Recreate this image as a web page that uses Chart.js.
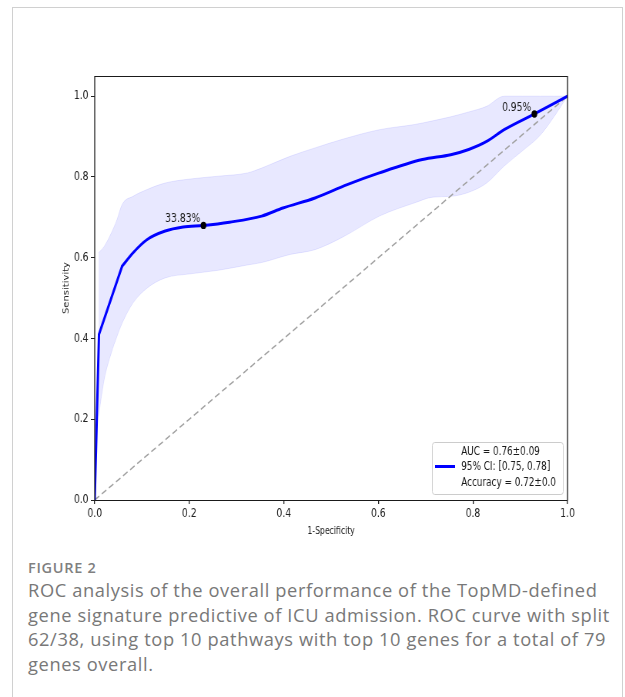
<!DOCTYPE html>
<html><head><meta charset="utf-8">
<script src="https://cdn.jsdelivr.net/npm/chart.js@4.4.0/dist/chart.umd.min.js"></script>
<style>
html,body{margin:0;padding:0;background:#fff;}
body{width:625px;height:697px;position:relative;overflow:hidden;}
#card{position:absolute;left:12px;top:7px;width:611px;height:760px;border:1px solid #d0d0d0;box-sizing:border-box;}
#wrap{position:absolute;left:0;top:0;width:812px;height:545px;transform:scaleX(0.77);transform-origin:0 0;}
#c{display:block;width:812px;height:545px;}
#cap{position:absolute;left:28px;top:558px;font-family:'Open Sans','Lato',sans-serif;color:#787878;white-space:nowrap;}
#cap .fig{font-size:14.5px;line-height:20px;font-weight:600;color:#808080;letter-spacing:0.7px;}
#cap .txt{font-size:18.3px;line-height:24.5px;font-weight:400;letter-spacing:0.6px;}
</style></head>
<body>
<div id="card"></div>
<div id="wrap"><canvas id="c" width="812" height="545"></canvas></div>
<div id="cap"><div class="fig">FIGURE 2</div><div class="txt">ROC analysis of the overall performance of the TopMD-defined<br>gene signature predictive of ICU admission. ROC curve with split<br>62/38, using top 10 pathways with top 10 genes for a total of 79<br>genes overall.</div></div>
<script>
// ---- data ----
// steep start of the mean ROC curve (straight segments)
const fprMeanStart = [0, 0.009, 0.058];
const tprMeanStart = [0, 0.410, 0.579];
// rest of the mean ROC curve (smooth)
const fprMean = [0.058, 0.081, 0.111, 0.149, 0.187, 0.230, 0.285, 0.353, 0.398, 0.466, 0.534, 0.602, 0.693, 0.753, 0.791, 0.829, 0.866, 0.930, 1.0];
const tprMean = [0.579, 0.612, 0.645, 0.666, 0.676, 0.680, 0.688, 0.703, 0.723, 0.748, 0.781, 0.810, 0.843, 0.855, 0.868, 0.888, 0.917, 0.956, 1.0];

const fprBand  = [0.008, 0.020, 0.035, 0.047, 0.058, 0.081, 0.111, 0.149, 0.202, 0.262, 0.323, 0.353, 0.413, 0.466, 0.526, 0.602, 0.677, 0.715, 0.753, 0.791, 0.829, 0.866, 0.904, 0.942, 0.972, 1.0];
const tprUpper = [0.612, 0.628, 0.661, 0.694, 0.732, 0.752, 0.769, 0.785, 0.795, 0.802, 0.810, 0.822, 0.851, 0.872, 0.894, 0.917, 0.930, 0.939, 0.949, 0.961, 0.975, 1.0, 1.0, 1.0, 1.0, 1.0];
const tprLower = [0.207, 0.298, 0.364, 0.405, 0.438, 0.488, 0.525, 0.550, 0.560, 0.569, 0.582, 0.588, 0.608, 0.620, 0.652, 0.703, 0.736, 0.750, 0.752, 0.762, 0.785, 0.827, 0.864, 0.903, 0.950, 1.0];

const markerFpr = [0.23, 0.93];
const markerTpr = [0.68, 0.956];
const markerLabels = ['33.83%', '0.95%'];

const chanceFpr = [0, 1];
const chanceTpr = [0, 1];

const xTicks = [0.0, 0.2, 0.4, 0.6, 0.8, 1.0];
const yTicks = [0.0, 0.2, 0.4, 0.6, 0.8, 1.0];
const legendLines = ['AUC = 0.76\u00B10.09', '95% CI: [0.75, 0.78]', 'Accuracy = 0.72\u00B10.0'];
const xTitle = '1-Specificity';
const yTitle = 'Sensitivity';

const pts = (xs, ys) => xs.map((x, i) => ({x: x, y: ys[i]}));

Chart.defaults.font.family = "'DejaVu Sans', sans-serif";
Chart.defaults.color = '#222';

const framePlugin = {
  id: 'frame',
  afterDatasetsDraw(chart) {
    const {ctx, chartArea: a} = chart;
    ctx.save();
    ctx.strokeStyle = '#1a1a1a';
    ctx.lineWidth = 1;
    ctx.beginPath();
    ctx.moveTo(a.left, Math.round(a.top) + 0.5); ctx.lineTo(a.right, Math.round(a.top) + 0.5);
    ctx.moveTo(a.left, Math.round(a.bottom) + 0.5); ctx.lineTo(a.right, Math.round(a.bottom) + 0.5);
    ctx.stroke();
    ctx.lineWidth = 1.3;
    ctx.beginPath();
    ctx.moveTo(a.left, a.top); ctx.lineTo(a.left, a.bottom + 0.5);
    ctx.moveTo(a.right, a.top); ctx.lineTo(a.right, a.bottom + 0.5);
    ctx.stroke();
    ctx.restore();
  }
};

const annotPlugin = {
  id: 'annot',
  afterDatasetsDraw(chart) {
    const {ctx} = chart;
    const meta = chart.getDatasetMeta(0);
    ctx.save();
    ctx.font = "12px 'DejaVu Sans'";
    ctx.fillStyle = '#1a1a1a';
    ctx.textAlign = 'right';
    ctx.textBaseline = 'alphabetic';
    meta.data.forEach((el, i) => {
      ctx.fillText(markerLabels[i], el.x - 4, el.y - 3);
    });
    ctx.restore();
  }
};

const legendPlugin = {
  id: 'boxLegend',
  afterDraw(chart) {
    const {ctx, chartArea: a} = chart;
    const bw = 170, bh = 52;
    const bx = a.right - 6 - bw, by = a.bottom - 6 - bh;
    ctx.save();
    ctx.beginPath();
    ctx.roundRect(bx + 0.5, by + 0.5, bw, bh, 3);
    ctx.fillStyle = 'rgba(255,255,255,0.85)';
    ctx.fill();
    ctx.strokeStyle = '#cccccc';
    ctx.lineWidth = 1;
    ctx.stroke();
    ctx.beginPath();
    ctx.moveTo(bx + 4, by + 24.5); ctx.lineTo(bx + 30, by + 24.5);
    ctx.strokeStyle = '#0000ff';
    ctx.lineWidth = 3;
    ctx.stroke();
    ctx.font = "11.5px 'DejaVu Sans'";
    ctx.fillStyle = '#1a1a1a';
    ctx.textAlign = 'left';
    ctx.textBaseline = 'middle';
    const ys = [10.5, 25, 40.6];
    legendLines.forEach((t, i) => ctx.fillText(t, bx + 38, by + ys[i]));
    ctx.restore();
  }
};

new Chart(document.getElementById('c'), {
  type: 'line',
  data: {
    datasets: [
      { label: 'markers', data: pts(markerFpr, markerTpr), showLine: false,
        pointRadius: 3.7, pointBackgroundColor: '#000', pointBorderColor: '#000', pointBorderWidth: 0, order: 0 },
      { label: 'mean ROC start', data: pts(fprMeanStart, tprMeanStart), borderColor: '#0000ff', borderWidth: 3,
        pointRadius: 0, tension: 0, fill: false, order: 1, borderJoinStyle: 'round' },
      { label: 'mean ROC', data: pts(fprMean, tprMean), borderColor: '#0000ff', borderWidth: 3,
        pointRadius: 0, cubicInterpolationMode: 'monotone', fill: false, order: 1, borderCapStyle: 'round' },
      { label: 'chance', data: pts(chanceFpr, chanceTpr), borderColor: '#a0a0a0', borderWidth: 1.5,
        borderDash: [7, 4], pointRadius: 0, fill: false, order: 2 },
      { label: 'upper', data: pts(fprBand, tprUpper), borderColor: 'rgba(0,0,255,0.09)', borderWidth: 1,
        backgroundColor: 'rgba(0,0,255,0.09)', pointRadius: 0, cubicInterpolationMode: 'monotone', fill: '+1', order: 3 },
      { label: 'lower', data: pts(fprBand, tprLower), borderColor: 'rgba(0,0,255,0.09)', borderWidth: 1,
        pointRadius: 0, cubicInterpolationMode: 'monotone', fill: false, order: 4 }
    ]
  },
  options: {
    responsive: false,
    animation: false,
    devicePixelRatio: 1,
    layout: { padding: { left: 0, top: 76, right: 75, bottom: 0 } },
    plugins: { legend: { display: false }, tooltip: { enabled: false } },
    scales: {
      x: {
        type: 'linear', min: 0, max: 1,
        afterBuildTicks: s => { s.ticks = xTicks.map(v => ({value: v})); },
        afterFit: s => { s.height = 45; },
        ticks: { callback: v => v.toFixed(1), font: { size: 12 }, padding: 3, maxRotation: 0, color: '#222' },
        grid: { drawOnChartArea: false, drawTicks: true, tickLength: 4, color: '#222', lineWidth: 1.3 },
        border: { display: false },
        title: { display: true, text: xTitle, font: { size: 10 }, color: '#222', padding: { top: 0, bottom: 8 } }
      },
      y: {
        type: 'linear', min: 0, max: 1.05,
        afterBuildTicks: s => { s.ticks = yTicks.map(v => ({value: v})); },
        afterFit: s => { s.width = 123; },
        ticks: { callback: v => v.toFixed(1), font: { size: 12 }, padding: 3, color: '#222' },
        grid: { drawOnChartArea: false, drawTicks: true, tickLength: 5, color: '#222', lineWidth: 1 },
        border: { display: false },
        title: { display: true, text: yTitle, font: { size: 10 }, color: '#222', padding: { top: 80, bottom: 0 } }
      }
    }
  },
  plugins: [framePlugin, annotPlugin, legendPlugin]
});
</script>
</body></html>
